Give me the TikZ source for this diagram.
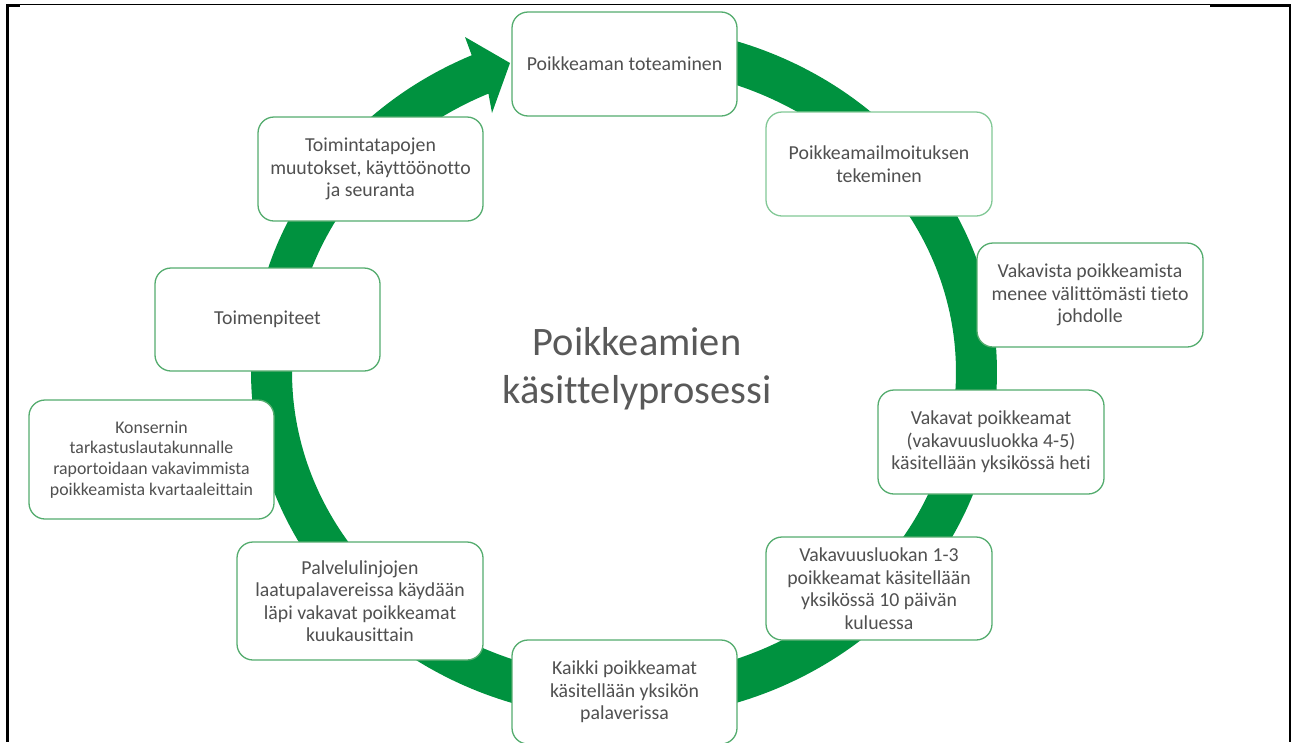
\documentclass[tikz,border=0pt]{standalone}
\usepackage{fontspec}
\setmainfont[Ligatures=NoCommon]{Carlito}
\definecolor{ringgreen}{RGB}{0,146,63}
\definecolor{boxgreen}{RGB}{84,172,110}
\definecolor{boxlight}{RGB}{130,200,150}
\definecolor{txt}{RGB}{80,80,80}
\definecolor{ttl}{RGB}{89,89,89}
\tikzset{
  stepbox/.style={draw=boxgreen, line width=1.3pt, fill=white, rounded corners=16pt,
    align=center, text=txt, inner sep=0pt, minimum width=225pt, minimum height=104pt,
    font=\fontsize{19.8}{22.5}\selectfont},
  frameline/.style={draw=black}
}
\begin{document}
\begin{tikzpicture}[x=1pt,y=-1pt]
\useasboundingbox (0,0) rectangle (1292,742);
% ring with arrowhead
\fill[ringgreen] plot[domain=80:-245.9, samples=300] ({624+373*cos(\x)},{372-347*sin(\x)})
  -- (465,37) -- (510,63) -- (492,113)
  -- plot[domain=-245.9:80, samples=300] ({624+332*cos(\x)},{372-305*sin(\x)}) -- cycle;
% boxes
\node[stepbox] (n1) at (624.5,64) {Poikkeaman toteaminen};
\node[stepbox, draw=boxlight, minimum width=226pt] (n2) at (879,164) {Poikkeamailmoituksen\\tekeminen};
\node[stepbox, minimum width=226pt] (n3) at (1090,295) {Vakavista poikkeamista\\menee välittömästi tieto\\johdolle};
\node[stepbox, minimum width=226pt] (n4) at (991,442) {Vakavat poikkeamat\\(vakavuusluokka 4-5)\\käsitellään yksikössä heti};
\node[stepbox, minimum width=226pt, minimum height=103pt] (n5) at (879,588.5) {Vakavuusluokan 1-3\\poikkeamat käsitellään\\yksikössä 10 päivän\\kuluessa};
\node[stepbox] (n6) at (624.5,692) {Kaikki poikkeamat\\käsitellään yksikön\\palaverissa};
\node[stepbox, minimum width=246pt, minimum height=118pt] (n7) at (360,601) {Palvelulinjojen\\laatupalavereissa käydään\\läpi vakavat poikkeamat\\kuukausittain};
\node[stepbox, minimum width=245pt, minimum height=119pt, font=\fontsize{17.8}{20.7}\selectfont] (n8) at (151.5,459.5) {Konsernin\\tarkastuslautakunnalle\\raportoidaan vakavimmista\\poikkeamista kvartaaleittain};
\node[stepbox, minimum height=103pt] (n9) at (267.5,319.5) {Toimenpiteet};
\node[stepbox] (n10) at (370.5,169) {Toimintatapojen\\muutokset, käyttöönotto\\ja seuranta};
% title
\node[align=center, text=ttl, font=\fontsize{40.4}{48}\selectfont, inner sep=0pt] (title) at (637,369) {Poikkeamien\\käsittelyprosessi};
% frame
\draw[frameline, line width=1.2pt] (7,4.5) -- (1290,4.5);
\draw[frameline, line width=2.5pt] (7,5.5) -- (20,5.5);
\draw[frameline, line width=2.5pt] (1210,5.5) -- (1290,5.5);
\draw[frameline, line width=2.5pt] (7.5,4) -- (7.5,742);
\draw[frameline, line width=2pt] (1290,4) -- (1290,742);
\end{tikzpicture}
\end{document}
